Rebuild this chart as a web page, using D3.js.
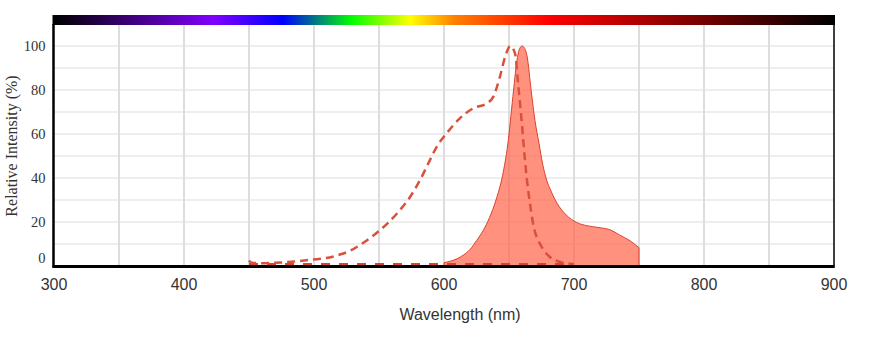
<!DOCTYPE html>
<html><head><meta charset="utf-8">
<script src="https://cdn.jsdelivr.net/npm/d3@7"></script>
<style>body{margin:0;background:#fff}svg{display:block}</style>
</head><body>
<svg id="c" width="870" height="338"></svg>
<script>
// ---- data ----
const xTicks = [300, 400, 500, 600, 700, 800, 900];
const yTicks = [0, 20, 40, 60, 80, 100];
const emWl  = [600,605,610,615,620,625,630,635,640,645,649,653,656,658,660,662,664,667,670,673,676,679,682,687,694,702,710,720,728,735,743,750];
const emVal = [1.5,2.2,3.3,5,7.5,11.5,16,22,30,41,55,77,93,98.5,100,99,95,80,66,56,46,39,34.5,28.5,23.2,19.8,18.3,17.4,16.4,14.1,11.5,8.3];
const exWl  = [450,452,460,470,480,494,505,512,520,528,538,551,564,574,581.5,588,594.4,602,612,622.5,633,638,643,647,651,654.6,657,660,662,664,666,668,670,673,677,681,686,692,700];
const exVal = [2.5,1.5,1.3,1.5,1.8,2.6,3.3,3.9,5.2,7,10.6,16.4,24,31.5,39,46.7,54.2,60.3,67,71.7,74,77,86,95,100,96.7,83,64,50,38,29,21,15.5,11,7,4.3,2.5,1.5,0.8];
const baseWl  = [450,500,550,600,650,700];
const baseVal = [0.8,0.8,0.8,0.8,0.8,0.8];
const spectrumWl  = [300,423,476,529,574,608,680,900];
const spectrumCol = ["#000000","#8000ff","#0000ff","#00ff00","#ffff00","#ff8000","#ff0000","#000000"];

const svg = d3.select("#c");
const x = d3.scaleLinear().domain([300, 900]).range([54, 834]);
const y = d3.scaleLinear().domain([0, 110]).range([266, 24]);

// grid
svg.append("g").selectAll("line").data(d3.range(10, 101, 10)).join("line")
  .attr("x1", x(300)).attr("x2", x(900)).attr("y1", d => y(d)).attr("y2", d => y(d))
  .attr("stroke", "#dddddd").attr("stroke-width", 1);
svg.append("g").selectAll("line").data(d3.range(350, 900, 50)).join("line")
  .attr("x1", d => x(d)).attr("x2", d => x(d)).attr("y1", y(0)).attr("y2", y(110))
  .attr("stroke", "#dddddd").attr("stroke-width", 2);

// emission area
const em = emWl.map((w, i) => [w, emVal[i]]);
svg.append("path").datum(em)
  .attr("d", d3.area().x(d => x(d[0])).y0(y(0)).y1(d => y(d[1])).curve(d3.curveMonotoneX))
  .attr("fill", "#ff6347").attr("fill-opacity", 0.7)
  .attr("stroke", "#d9432f").attr("stroke-width", 1);

// excitation dashed
const lineGen = d3.line().x(d => x(d[0])).y(d => y(d[1])).curve(d3.curveMonotoneX);
svg.append("path").datum(baseWl.map((w, i) => [w, baseVal[i]]))
  .attr("d", lineGen).attr("fill", "none").attr("stroke", "#d9432f")
  .attr("stroke-width", 2.5).attr("stroke-dasharray", "9,9");
svg.append("path").datum(exWl.map((w, i) => [w, exVal[i]]))
  .attr("d", lineGen).attr("fill", "none").attr("stroke", "#d9503c")
  .attr("stroke-width", 2.5).attr("stroke-dasharray", "8,5");

// spectrum bar
const grad = svg.append("defs").append("linearGradient").attr("id", "spec")
  .attr("gradientUnits", "userSpaceOnUse").attr("x1", x(300)).attr("x2", x(900)).attr("y1", 0).attr("y2", 0);
grad.selectAll("stop").data(spectrumWl).join("stop")
  .attr("offset", d => (x(d) - x(300)) / (x(900) - x(300)))
  .attr("stop-color", (d, i) => spectrumCol[i]);
svg.append("rect").attr("x", x(300) - 1.5).attr("y", 15).attr("width", x(900) - x(300) + 2.5).attr("height", 10)
  .attr("fill", "url(#spec)");

// borders
svg.append("line").attr("x1", x(900)).attr("x2", x(900)).attr("y1", 24).attr("y2", y(0))
  .attr("stroke", "#000").attr("stroke-width", 1.5);
svg.append("line").attr("x1", x(300) - 0.5).attr("x2", x(300) - 0.5).attr("y1", 24).attr("y2", y(0) + 1.5)
  .attr("stroke", "#000").attr("stroke-width", 2.5);
svg.append("line").attr("x1", x(300) - 1.5).attr("x2", x(900) + 0.75).attr("y1", y(0) + 0.5).attr("y2", y(0) + 0.5)
  .attr("stroke", "#000").attr("stroke-width", 3);

// x tick labels
svg.append("g").selectAll("text").data(xTicks).join("text")
  .attr("x", d => x(d)).attr("y", 290).attr("text-anchor", "middle")
  .attr("font-family", "Liberation Sans, Arial, sans-serif").attr("font-size", 16).attr("fill", "#333")
  .text(d => d);
// y tick labels
svg.append("g").selectAll("text").data(yTicks).join("text")
  .attr("x", 45.5).attr("y", d => y(d) + 5 - (d === 0 ? 8 : 0)).attr("text-anchor", "end")
  .attr("font-family", "Liberation Serif, Times New Roman, serif").attr("font-size", 14.5).attr("fill", "#333")
  .text(d => d);

svg.append("text").attr("x", 460).attr("y", 320).attr("text-anchor", "middle")
  .attr("font-family", "Liberation Sans, Arial, sans-serif").attr("font-size", 16).attr("fill", "#333")
  .text("Wavelength (nm)");
svg.append("text").attr("transform", "translate(17,146) rotate(-90)").attr("text-anchor", "middle")
  .attr("font-family", "Liberation Serif, Times New Roman, serif").attr("font-size", 16).attr("fill", "#333")
  .text("Relative Intensity (%)");
</script>
</body></html>
